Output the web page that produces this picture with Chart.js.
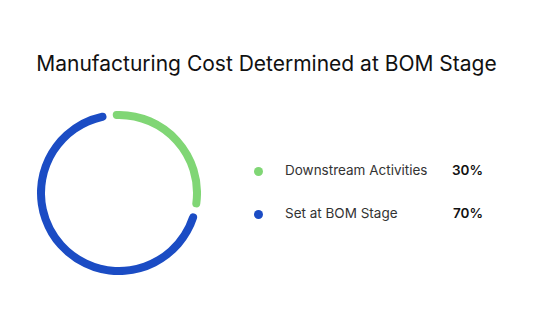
<!DOCTYPE html>
<html>
<head>
<meta charset="utf-8">
<script src="https://cdn.jsdelivr.net/npm/chart.js"></script>
<style>
  body { margin: 0; background: #fff; font-family: Inter, "Noto Sans", sans-serif; }
  #wrap { position: relative; width: 557px; height: 320px; overflow: hidden; }
  #title { position: absolute; left: 0; width: 533px; top: 51px; text-align: center; font-size: 21px; color: #111; }
  #donut { position: absolute; left: 37px; top: 110.5px; width: 164px; height: 164px; }
  .row { position: absolute; left: 253px; width: 232px; height: 20px; font-size: 13.5px; color: #333; }
  .dot { position: absolute; left: 1px; top: 5.5px; width: 9px; height: 9px; border-radius: 50%; }
  .lbl { position: absolute; left: 32px; top: 1px; }
  .val { position: absolute; right: 2px; top: 1px; font-weight: 600; color: #111; }
</style>
</head>
<body>
<div id="wrap">
  <div id="title">Manufacturing Cost Determined at BOM Stage</div>
  <div id="donut"><canvas id="myChart" width="164" height="164"></canvas></div>
  <div id="legend"></div>
</div>
<script>
var labels = ["Downstream Activities", "Set at BOM Stage"];
var shares = [30, 70];
var colors = ["#80D675", "#1B4CC4"];

// legend rows on the right, built from the same arrays
var legend = document.getElementById('legend');
for (let i = 0; i < labels.length; i++) {
    let row = document.createElement('div');
    row.className = 'row';
    row.style.top = (161 + i * 43) + 'px';
    row.innerHTML = '<span class="dot" style="background:' + colors[i] + '"></span>' +
        '<span class="lbl">' + labels[i] + '</span>' +
        '<span class="val">' + shares[i] + '%</span>';
    legend.appendChild(row);
}

const donut = new Chart("myChart", {
    type: "doughnut",
    data: {
        labels: labels,
        datasets: [{
            data: shares,
            backgroundColor: colors,
            borderWidth: 0,
            borderRadius: 5,
            spacing: 4
        }]
    },
    options: {
        responsive: false,
        animation: false,
        cutout: "90%",
        rotation: -6,
        plugins: {
            legend: { display: false },
            tooltip: { enabled: false }
        }
    }
})
</script>
</body>
</html>
